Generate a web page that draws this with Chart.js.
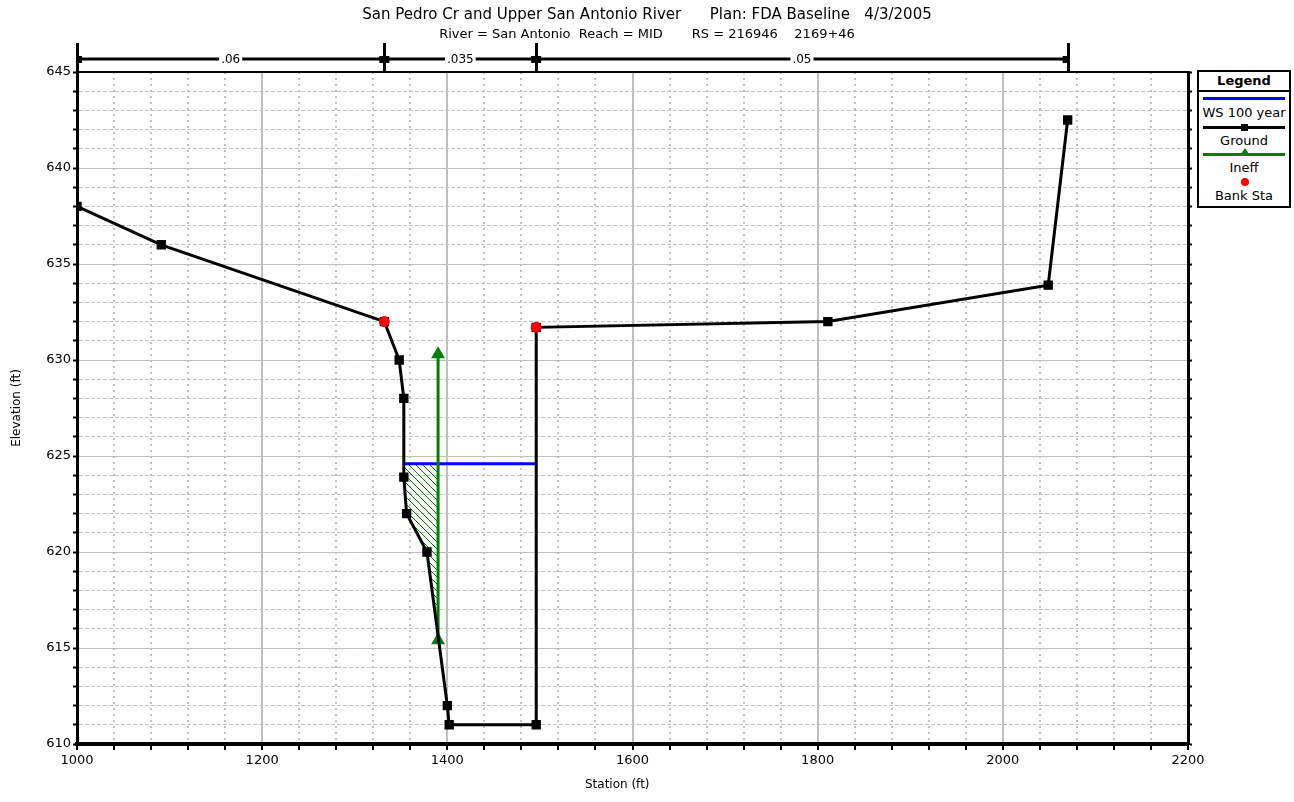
<!DOCTYPE html>
<html>
<head>
<meta charset="utf-8">
<script src="https://cdn.jsdelivr.net/npm/chart.js@4.4.1/dist/chart.umd.min.js"></script>
<style>
  body { margin: 0; background: #fff; }
  #wrap { position: relative; width: 1294px; height: 802px; }
  #legend {
    position: absolute; left: 1197px; top: 70px; width: 90px; height: 134px;
    border: 2px solid #000; background: #fff;
    font-family: "DejaVu Sans", "Liberation Sans", Arial, sans-serif; font-size: 13px; color: #000;
  }
  #legend .head {
    height: 18px; border-bottom: 2px solid #000; font-weight: bold; font-size: 13px;
    text-align: center; line-height: 18px;
  }
  #legend .item { position: absolute; left: 0; width: 90px; text-align: center; white-space: nowrap; line-height: 14px; }
  #legend .sym { position: absolute; left: 4px; width: 82px; }
</style>
</head>
<body>
<div id="wrap">
  <canvas id="grafico" width="1294" height="802"></canvas>
  <div id="legend">
    <div class="head">Legend</div>
    <div class="sym" style="top:25px;height:3px;background:#0000ff"></div>
    <div class="item" style="top:34px">WS 100 year</div>
    <div class="sym" style="top:54px;height:3px;background:#000"></div>
    <div class="sym" style="top:52px;left:42px;width:7px;height:7px;background:#000"></div>
    <div class="item" style="top:62px">Ground</div>
    <div class="sym" style="top:81px;height:3px;background:#008000"></div>
    <div class="sym" style="top:76px;left:42px;width:0;height:0;border-left:4px solid transparent;border-right:4px solid transparent;border-bottom:6px solid #008000"></div>
    <div class="item" style="top:89px">Ineff</div>
    <div class="sym" style="top:106px;left:42px;width:8px;height:8px;border-radius:50%;background:#ff0000"></div>
    <div class="item" style="top:117px">Bank Sta</div>
  </div>
</div>
<script>
// dados da seção transversal
const groundStation = [1000, 1091, 1332, 1348, 1353, 1353, 1356, 1378, 1400, 1402, 1496, 1496, 1811, 2049, 2070];
const groundElevation = [638, 636, 632, 630, 628, 623.9, 622, 620, 612, 611, 611, 631.7, 632, 633.9, 642.5];

const bankStation = [1332, 1496];
const bankElevation = [632, 631.7];

const wsStation = [1353, 1496];
const wsElevation = [624.6, 624.6];

const ineffStation = [1390, 1390];
const ineffElevation = [615.4, 630.3];

// área inefetiva hachurada (abaixo do WS)
const ineffAreaStation = [1353, 1390, 1390, 1378, 1356, 1353, 1353];
const ineffAreaElevation = [624.6, 624.6, 615.4, 620, 622, 623.9, 624.6];

// valores de Manning
const nBreaks = [1000, 1332, 1496, 2070];
const nValues = [".06", ".035", ".05"];

const xMin = 1000, xMax = 2200, xStep = 40, xLabelStep = 200;
const yMin = 610, yMax = 645, yStep = 1, yLabelStep = 5;

const FONT = '"DejaVu Sans", "Liberation Sans", Arial, sans-serif';

function pts(xs, ys) {
  return xs.map((x, i) => ({ x: x, y: ys[i] }));
}

function hatchPattern() {
  const c = document.createElement("canvas");
  c.width = 7; c.height = 7;
  const g = c.getContext("2d");
  g.strokeStyle = "#008000";
  g.lineWidth = 1;
  g.beginPath();
  for (let o = -7; o <= 7; o += 7) {
    g.moveTo(o, 0);
    g.lineTo(o + 7, 7);
  }
  g.stroke();
  return g.createPattern(c, "repeat");
}

// barra dos coeficientes de Manning acima do gráfico
const nBarPlugin = {
  id: "nBar",
  afterDraw(chart) {
    const { ctx, chartArea, scales: { x } } = chart;
    const yLine = chartArea.top - 13;
    ctx.save();
    ctx.strokeStyle = "#000";
    ctx.fillStyle = "#000";
    ctx.font = "12px " + FONT;
    ctx.textAlign = "center";
    ctx.textBaseline = "middle";
    for (let i = 0; i < nValues.length; i++) {
      const a = x.getPixelForValue(nBreaks[i]);
      const b = x.getPixelForValue(nBreaks[i + 1]);
      const mid = (a + b) / 2;
      const w = ctx.measureText(nValues[i]).width / 2 + 2;
      ctx.lineWidth = 3;
      ctx.beginPath();
      ctx.moveTo(a, yLine); ctx.lineTo(mid - w, yLine);
      ctx.moveTo(mid + w, yLine); ctx.lineTo(b, yLine);
      ctx.stroke();
      ctx.fillText(nValues[i], mid, yLine + 1);
      ctx.fillRect(a, yLine - 3, 5, 7);
      ctx.fillRect(b - 5, yLine - 3, 5, 7);
    }
    nBreaks.forEach(v => {
      const p = Math.round(x.getPixelForValue(v));
      ctx.fillRect(p - 1, chartArea.top - 29, 3, 29);
    });
    ctx.restore();
  }
};

Chart.defaults.color = "#000";
Chart.defaults.font.family = FONT;
Chart.defaults.font.size = 13;

const edge = (v, lo, hi) => v === lo || v === hi;

const ctx = document.getElementById("grafico").getContext("2d");
new Chart(ctx, {
  type: "scatter",
  data: {
    datasets: [
      {
        label: "Bank Sta",
        data: pts(bankStation, bankElevation),
        pointStyle: "circle",
        pointRadius: 5,
        backgroundColor: "#ff0000",
        borderColor: "#ff0000",
        showLine: false,
        order: 0
      },
      {
        label: "Ground",
        data: pts(groundStation, groundElevation),
        showLine: true,
        borderColor: "#000",
        borderWidth: 3,
        pointStyle: "rect",
        pointRadius: 4.5,
        backgroundColor: "#000",
        order: 1
      },
      {
        label: "Ineff",
        data: pts(ineffStation, ineffElevation),
        showLine: true,
        borderColor: "#008000",
        borderWidth: 3,
        pointStyle: "triangle",
        pointRadius: 5,
        backgroundColor: "#008000",
        order: 2
      },
      {
        label: "WS 100 year",
        data: pts(wsStation, wsElevation),
        showLine: true,
        borderColor: "#0000ff",
        borderWidth: 3,
        pointRadius: 0,
        order: 3
      },
      {
        label: "Ineff area",
        data: pts(ineffAreaStation, ineffAreaElevation),
        showLine: true,
        borderWidth: 0,
        borderColor: "rgba(0,0,0,0)",
        backgroundColor: hatchPattern(),
        fill: "shape",
        pointRadius: 0,
        order: 4
      }
    ]
  },
  options: {
    responsive: false,
    animation: false,
    layout: { padding: 0 },
    plugins: {
      legend: { display: false },
      tooltip: { enabled: false },
      title: {
        display: true,
        text: "San Pedro Cr and Upper San Antonio River      Plan: FDA Baseline   4/3/2005",
        font: { size: 15, weight: "normal", lineHeight: 1.2 },
        padding: { top: 6, bottom: 2 }
      },
      subtitle: {
        display: true,
        text: "River = San Antonio  Reach = MID       RS = 216946    2169+46",
        font: { size: 13, lineHeight: 1.2 },
        padding: { top: 1, bottom: 29.4 }
      }
    },
    scales: {
      x: {
        type: "linear",
        position: "bottom",
        min: xMin, max: xMax,
        afterFit: s => { s.height = 58; },
        ticks: {
          stepSize: xStep,
          autoSkip: false,
          maxRotation: 0,
          padding: 3,
          callback: v => (v % xLabelStep === 0 ? String(v) : "")
        },
        grid: {
          color: c => (edge(c.tick.value, xMin, xMax) ? "rgba(0,0,0,0)" : "#c0c0c0"),
          lineWidth: 2,
          tickColor: "#000",
          tickLength: 6,
          tickWidth: 2
        },
        border: { display: true, color: "#000", width: 4, dash: [2, 4] },
        title: { display: true, text: "Station (ft)        ", font: { size: 12 }, padding: { top: 4, bottom: 10 } }
      },
      xTop: {
        type: "linear",
        position: "top",
        min: xMin, max: xMax,
        ticks: { stepSize: xStep, display: false },
        grid: {
          drawTicks: false,
          color: c => (c.tick.value % xLabelStep === 0 && !edge(c.tick.value, xMin, xMax) ? "#c0c0c0" : "rgba(0,0,0,0)"),
          lineWidth: 2
        },
        border: { display: true, color: "#000", width: 2 }
      },
      y: {
        type: "linear",
        position: "left",
        min: yMin, max: yMax,
        afterFit: s => { s.width = 77; },
        ticks: {
          stepSize: yStep,
          autoSkip: false,
          padding: 2,
          callback: v => (v % yLabelStep === 0 ? String(v) : "")
        },
        grid: {
          color: c => (edge(c.tick.value, yMin, yMax) ? "rgba(0,0,0,0)" : "#c0c0c0"),
          lineWidth: 1,
          tickColor: "#000",
          tickLength: 4,
          tickWidth: 2
        },
        border: { display: true, color: "#000", width: 3, dash: [4, 2] },
        title: { display: true, text: "Elevation (ft)", font: { size: 12 }, padding: { top: 10, bottom: 4 } }
      },
      yRight: {
        type: "linear",
        position: "right",
        min: yMin, max: yMax,
        afterFit: s => { s.width = 106; },
        ticks: { stepSize: yStep, display: false },
        grid: {
          drawTicks: true,
          tickLength: 4,
          tickColor: "#000",
          tickWidth: 2,
          color: c => (c.tick.value % yLabelStep === 0 && !edge(c.tick.value, yMin, yMax) ? "#c0c0c0" : "rgba(0,0,0,0)"),
          lineWidth: 1
        },
        border: { display: true, color: "#000", width: 3 }
      }
    }
  },
  plugins: [nBarPlugin]
});
</script>
</body>
</html>
